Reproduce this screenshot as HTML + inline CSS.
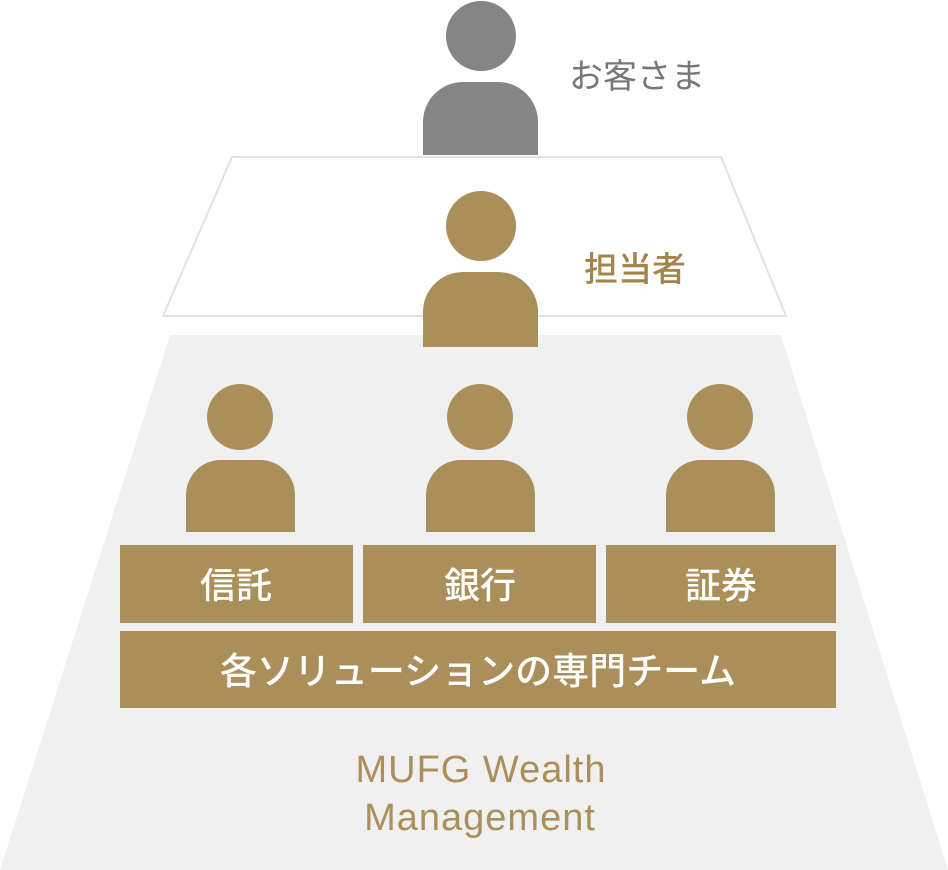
<!DOCTYPE html>
<html><head><meta charset="utf-8"><style>
html,body{margin:0;padding:0;background:#fff;}
svg{display:block}
text{font-family:"Liberation Sans","Noto Sans CJK JP",sans-serif;}
</style></head><body>
<svg width="948" height="870" viewBox="0 0 948 870" xmlns="http://www.w3.org/2000/svg">
<polygon points="170,335 781,335 948,870 0,870" fill="#f0f0f0"/>
<polygon points="232,157 721,157 786,316 163,316" fill="#fff" stroke="#e2e2e2" stroke-width="2"/>
<circle cx="481" cy="36" r="35" fill="#858585"/>
<path d="M423,155 V122 A40,40 0 0 1 463,82 H498 A40,40 0 0 1 538,122 V155 Z" fill="#858585"/>
<text x="569" y="88" font-size="34" fill="#777">お客さま</text>
<circle cx="481" cy="226" r="35" fill="#ab8f5b"/>
<path d="M423,347 V312 A40,40 0 0 1 463,272 H498 A40,40 0 0 1 538,312 V347 Z" fill="#ab8f5b"/>
<text x="584" y="281" font-size="34" fill="#a3854a" font-weight="500">担当者</text>
<g fill="#ab8f5b">
<circle cx="240" cy="417" r="33"/>
<path d="M186,532 V495 A35,35 0 0 1 221,460 H260 A35,35 0 0 1 295,495 V532 Z"/>
<circle cx="480" cy="417" r="33"/>
<path d="M426,532 V495 A35,35 0 0 1 461,460 H500 A35,35 0 0 1 535,495 V532 Z"/>
<circle cx="720" cy="417" r="33"/>
<path d="M666,532 V495 A35,35 0 0 1 701,460 H740 A35,35 0 0 1 775,495 V532 Z"/>
<rect x="120" y="545" width="233" height="78"/>
<rect x="363" y="545" width="233" height="78"/>
<rect x="606" y="545" width="230" height="78"/>
<rect x="120" y="631" width="716" height="77"/>
</g>
<g fill="#fff" font-size="36" font-weight="500" text-anchor="middle">
<text x="236" y="598">信託</text>
<text x="480" y="598">銀行</text>
<text x="721" y="598">証券</text>
<text x="478" y="684" font-size="37">各ソリューションの専門チーム</text>
</g>
<g fill="#ab8f5b" font-size="38" text-anchor="middle" letter-spacing="1">
<text x="481" y="782">MUFG Wealth</text>
<text x="480" y="830">Management</text>
</g>
</svg>
</body></html>
